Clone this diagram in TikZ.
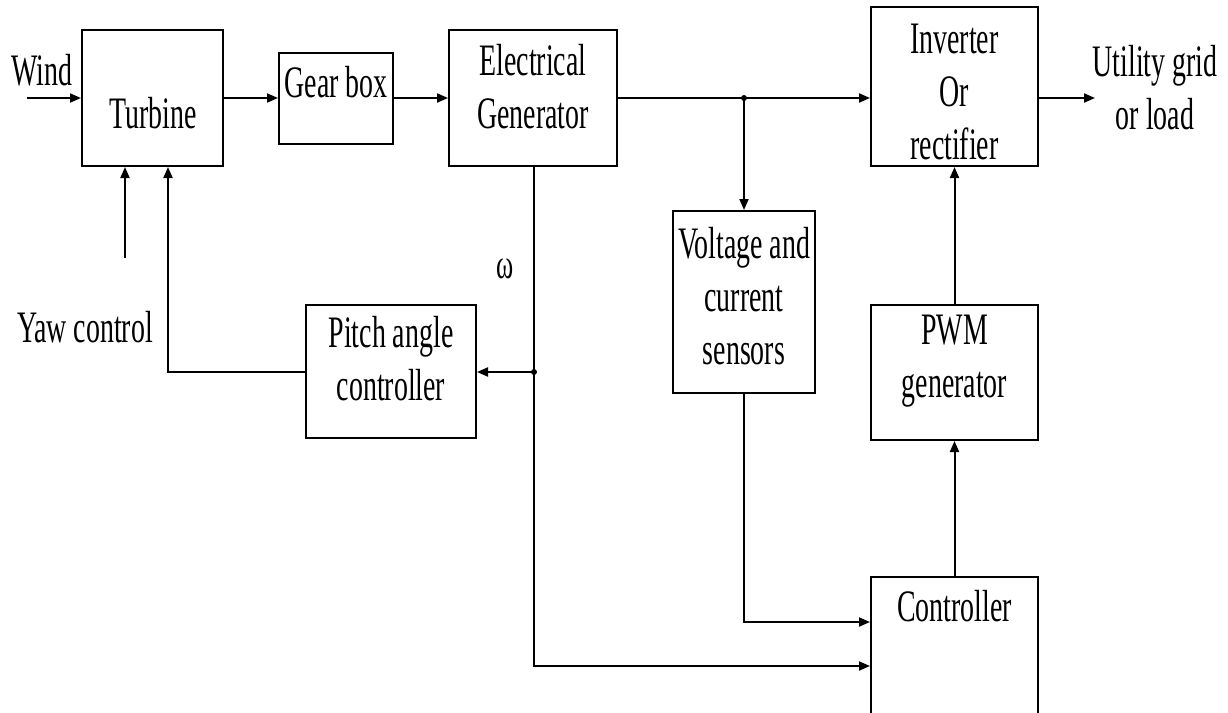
\documentclass[tikz,border=0pt]{standalone}
\usepackage{fontspec}
\setmainfont{Liberation Serif}[FakeStretch=0.62]
\usetikzlibrary{arrows.meta}
\begin{document}
\begin{tikzpicture}[x=1pt,y=-1pt,
  box/.style={draw,line width=2pt,inner sep=0pt},
  lbl/.style={inner sep=0pt,align=center,font=\fontsize{45}{53}\selectfont},
  conn/.style={line width=2pt},
  arr/.style={line width=2pt,-{Triangle[length=11pt,width=9pt]}},
  dot/.style={circle,fill=black,inner sep=0pt,minimum size=6pt}]
\useasboundingbox (0,0) rectangle (1228,712);
\clip (0,0) rectangle (1228,712);
% boxes
\node[box,minimum width=141pt,minimum height=136pt] (turb) at (152.5,98) {};
\node[box,minimum width=114pt,minimum height=91pt] (gear) at (336,98) {};
\node[box,minimum width=168pt,minimum height=136pt] (gen) at (533,98) {};
\node[box,minimum width=167pt,minimum height=159pt] (inv) at (954.5,86.5) {};
\node[box,minimum width=142pt,minimum height=182pt] (volt) at (744,302) {};
\node[box,minimum width=170pt,minimum height=133pt] (pitch) at (391,371.5) {};
\node[box,minimum width=167pt,minimum height=135pt] (pwm) at (954.5,372.5) {};
\node[box,minimum width=167pt,minimum height=163pt] (ctrl) at (954.5,658.5) {};
% texts
\node[lbl] (tturb) at (153,113) {Turbine};
\node[lbl] (tgear) at (336,82) {Gear box};
\node[lbl] (tgen) at (533,86.5) {Electrical\\Generator};
\node[lbl] (tinv) at (954.5,91.5) {Inverter\\Or\\rectifier};
\node[lbl] (tvolt) at (744,296) {Voltage and\\current\\sensors};
\node[lbl] (tpitch) at (391,358.5) {Pitch angle\\controller};
\node[lbl] (tpwm) at (954.5,361) {PWM\\generator};
\node[lbl] (tctrl) at (954.5,606) {Controller};
\node[lbl] (tutil) at (1155,88) {Utility grid\\or load};
\node[lbl] (twind) at (42,70) {Wind};
\node[lbl] (tyaw) at (85,327) {Yaw control};
\node[lbl,font=\fontsize{42}{50}\selectfont] (tomega) at (505.5,269) {ω};
% coordinates
\coordinate (wind) at (27,98);
\coordinate (out) at (1095,98);
\coordinate (yaw) at (125,258);
\coordinate (pfb) at (168,372);
\node[dot] (j1) at (744,98) {};
\node[dot] (j2) at (534,372) {};
\coordinate (c1) at (534,666);
\coordinate (c2) at (744,622);
% connectors
\draw[arr] (wind) -- (turb.west |- wind);
\draw[arr] (turb.east |- wind) -- (gear.west |- wind);
\draw[arr] (gear.east |- wind) -- (gen.west |- wind);
\draw[conn] (gen.east |- wind) -- (j1.center);
\draw[arr] (j1.center) -- (inv.west |- wind);
\draw[arr] (inv.east |- wind) -- (out);
\draw[arr] (j1.center) -- (volt.north);
\draw[arr] (yaw) -- (turb.south -| yaw);
\draw[arr] (pitch.west |- pfb) -- (pfb) -- (turb.south -| pfb);
\draw[conn] (gen.south -| j2) -- (j2.center);
\draw[arr] (j2.center) -- (pitch.east |- j2);
\draw[arr] (j2.center) -- (c1) -- (ctrl.west |- c1);
\draw[arr] (volt.south) -- (c2) -- (ctrl.west |- c2);
\draw[arr] (ctrl.north) -- (pwm.south);
\draw[arr] (pwm.north) -- (inv.south);
\end{tikzpicture}
\end{document}
